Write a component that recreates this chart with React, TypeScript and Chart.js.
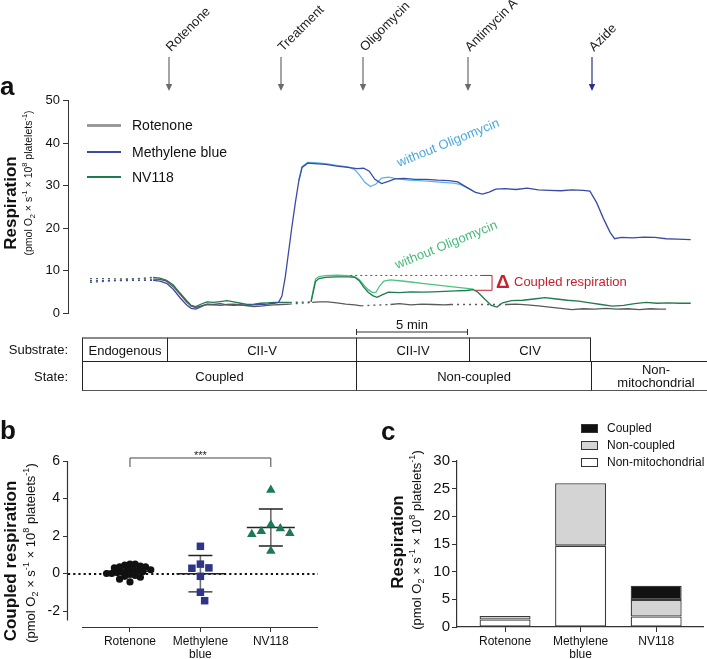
import React, { useEffect, useRef } from "react";
import { Chart, registerables } from "chart.js";

Chart.register(...registerables);

const FONT = '"Liberation Sans", Arial, Helvetica, sans-serif';
Chart.defaults.font.family = FONT;
Chart.defaults.color = "#111";

// ---------------- Panel a: O2 flux traces, [time (min), respiration] ----------------
const rotenoneTrace: [number, number | null][] = [
  [0.98, 8.1], [2.4, null], [3.8, 8.0], [4.1, 7.9], [4.4, 7.5], [4.7, 6.2], [5.0, 4.4], [5.3, 2.6],
  [5.5, 1.6], [5.7, 1.3], [5.9, 1.6], [6.2, 2.0], [6.5, 1.9], [6.8, 1.8], [7.1, 2.0], [7.4, 2.1],
  [7.7, 1.9], [8.0, 1.7], [8.3, 1.5], [8.6, 1.6], [8.9, 1.8], [9.2, 1.9], [9.5, 2.0], [9.9, 2.1],
  [10.4, null], [10.9, 2.5], [11.2, 2.6], [11.6, 2.6], [12.0, 2.4], [12.4, 2.1], [12.8, 1.9], [13.1, 1.7],
  [13.7, null], [14.4, 2.0], [14.8, 2.2], [15.3, 1.9], [15.8, 2.1], [16.3, 2.0], [16.8, 1.9], [17.1, 2.0],
  [18.3, null], [19.6, 2.0], [20.0, 2.1], [20.5, 1.9], [21.0, 1.7], [21.5, 1.4], [22.0, 1.1], [22.5, 0.8],
  [23.0, 1.0], [23.5, 0.9], [24.0, 1.1], [24.5, 0.9], [25.0, 1.0], [25.5, 0.8], [26.0, 1.0], [26.4, 0.9], [26.7, 0.9],
];
const methyleneBlueTrace: [number, number | null][] = [
  [0.98, 7.6], [2.4, null], [3.8, 7.7], [4.1, 7.5], [4.4, 7.0], [4.7, 5.6], [5.0, 3.6], [5.3, 1.9],
  [5.5, 1.1], [5.7, 0.9], [5.9, 1.4], [6.2, 2.1], [6.5, 2.0], [6.8, 2.2], [7.1, 1.9], [7.4, 1.8],
  [7.7, 1.9], [8.0, 1.8], [8.3, 1.9], [8.6, 2.0], [8.9, 2.1], [9.2, 2.3], [9.4, 2.5], [9.55, 4.0],
  [9.7, 8.5], [9.85, 14.5], [10.0, 20.5], [10.15, 26.0], [10.3, 31.0], [10.45, 34.3], [10.7, 35.3],
  [11.0, 35.2], [11.5, 35.0], [12.0, 34.6], [12.5, 34.3], [12.9, 34.0], [13.2, 34.1], [13.45, 33.4],
  [13.7, 31.5], [14.0, 30.5], [14.3, 31.0], [14.6, 31.6], [15.0, 31.7], [15.5, 31.5], [16.0, 31.5],
  [16.5, 31.3], [17.0, 31.2], [17.4, 30.9], [17.8, 29.6], [18.2, 28.4], [18.5, 28.0], [18.8, 28.5],
  [19.1, 29.2], [19.5, 29.3], [20.0, 29.1], [20.5, 29.4], [21.0, 29.0], [21.5, 28.9], [22.0, 28.8],
  [22.5, 29.0], [23.0, 28.9], [23.3, 28.7], [23.6, 26.0], [23.9, 22.3], [24.2, 19.0], [24.4, 17.5],
  [24.7, 17.8], [25.2, 17.7], [25.7, 17.9], [26.2, 17.8], [26.7, 17.5], [27.2, 17.4], [27.8, 17.3],
];
const methyleneBlueNoOligoTrace: [number, number | null][] = [
  [10.3, 31.2], [10.45, 34.5], [10.7, 35.5], [11.0, 35.4], [11.5, 35.2], [12.0, 34.8], [12.5, 34.4],
  [12.8, 33.8], [13.0, 32.6], [13.25, 30.8], [13.5, 29.8], [13.75, 30.4], [14.0, 31.8], [14.3, 32.0],
  [14.7, 31.6], [15.2, 31.3], [15.7, 31.2], [16.2, 31.0], [16.7, 30.8], [17.2, 30.6], [17.5, 30.3],
  [17.8, 29.6], [18.2, 28.4],
];
const nv118Trace: [number, number | null][] = [
  [0.98, 7.2], [2.4, null], [3.8, 8.4], [4.1, 8.2], [4.4, 7.7], [4.7, 6.6], [5.0, 4.7], [5.3, 2.9],
  [5.5, 1.8], [5.7, 1.5], [5.9, 2.0], [6.2, 2.6], [6.5, 2.5], [6.8, 2.7], [7.1, 2.9], [7.4, 2.6],
  [7.7, 2.3], [8.0, 2.0], [8.3, 2.1], [8.6, 2.3], [8.9, 2.4], [9.2, 2.5], [9.5, 2.5], [9.9, 2.5],
  [10.4, null], [10.85, 2.6], [10.95, 5.0], [11.05, 7.4], [11.2, 8.1], [11.5, 8.4], [12.0, 8.5],
  [12.5, 8.5], [12.8, 8.4], [13.0, 7.6], [13.2, 6.1], [13.4, 4.9], [13.6, 4.1], [13.8, 3.7], [14.0, 4.2],
  [14.3, 4.9], [14.8, 4.8], [15.3, 5.0], [15.8, 4.9], [16.3, 5.0], [16.8, 5.1], [17.3, 5.2], [17.8, 5.3],
  [18.1, 5.5], [18.3, 4.9], [18.6, 3.3], [18.9, 1.8], [19.15, 1.4], [19.4, 2.4], [19.8, 2.9], [20.3, 3.0],
  [20.8, 3.3], [21.3, 3.6], [21.8, 3.3], [22.3, 3.0], [22.8, 2.8], [23.3, 2.4], [23.8, 2.0], [24.3, 1.6],
  [24.8, 1.8], [25.3, 2.2], [25.8, 2.5], [26.3, 2.3], [26.8, 2.4], [27.3, 2.3], [27.8, 2.3],
];
const nv118NoOligoTrace: [number, number | null][] = [
  [10.85, 2.7], [10.95, 5.5], [11.05, 8.0], [11.2, 8.6], [11.5, 8.8], [12.0, 8.9], [12.5, 8.8],
  [12.8, 8.6], [13.0, 7.9], [13.2, 6.6], [13.4, 5.5], [13.6, 4.8], [13.75, 4.9], [13.9, 6.3],
  [14.1, 7.5], [14.4, 7.8], [14.8, 7.6], [15.3, 7.3], [15.8, 7.0], [16.3, 6.7], [16.8, 6.4],
  [17.3, 6.1], [17.8, 5.8], [18.1, 5.6],
];
const traceNames = ["Rotenone", "Methylene blue", "NV118"];
const respAxis = { min: 0, max: 50, step: 10 };
const timeAxis = { min: 0, max: 28.08 };
// coupled respiration bracket (time in min, respiration)
const coupledMark = { from: 12.6, to: 18.4, at: 18.93, bottomFrom: 18.2, top: 8.85, bottom: 5.35 };

// ---------------- Panel b: coupled respiration per platelet sample ----------------
const groupNames = ["Rotenone", "Methylene blue", "NV118"];
const groupTickLabels: (string | string[])[] = ["Rotenone", ["Methylene", "blue"], "NV118"];
const rotenoneCoupled = [0.5, 0.5, 0.45, 0.4, 0.35, 0.35, 0.3, 0.25, 0.2, 0.2, 0.15, 0.1, 0.1, 0.05, 0.0, 0.0, -0.05, -0.1, -0.15, -0.2, -0.3, -0.45];
const methyleneBlueCoupled = [1.45, 0.5, 0.3, 0.28, -0.15, -1.0, -1.45];
const nv118Coupled = [4.45, 2.6, 2.4, 2.25, 2.15, 2.1, 1.2];
const coupledAxis = { min: -2.853, max: 6, step: 2, axisEnd: -2.5 };
const significance = { from: 1, to: 3, level: 6.16, drop: 5.68, label: "***" };

// ---------------- Panel c: stacked respiration ----------------
const stackNames = ["Non-mitochondrial", "Non-coupled", "Coupled"];
const nonMitochondrial = [1.35, 14.7, 1.9];
const nonCoupled = [0.65, 11.3, 3.0];
const coupled = [0, 0, 2.55];
const stackAxis = { min: 0, max: 30, step: 5 };

const mean = (v: number[]) => v.reduce((a, b) => a + b, 0) / v.length;
const sd = (v: number[]) => {
  const m = mean(v);
  return Math.sqrt(v.reduce((a, b) => a + (b - m) * (b - m), 0) / (v.length - 1));
};

// simple beeswarm placement (offsets computed from values)
function swarm(values: number[], center: number, diam: number, pxPerX: number, pxPerY: number) {
  const placed: { x: number; y: number }[] = [];
  const out: { x: number; y: number }[] = new Array(values.length);
  const order = values.map((_, i) => i).sort((a, b) => values[b] - values[a]);
  for (const i of order) {
    const yPx = values[i] * pxPerY;
    let chosen = 0;
    for (let s = 0; s < 60; s++) {
      const off = s === 0 ? 0 : (s % 2 ? 1 : -1) * Math.ceil(s / 2) * diam * 0.5;
      if (placed.every((p) => Math.hypot(p.x - off, p.y - yPx) >= diam)) {
        chosen = off;
        break;
      }
    }
    placed.push({ x: chosen, y: yPx });
    out[i] = { x: center + chosen / pxPerX, y: values[i] };
  }
  return out;
}

const gapDash = (ctx: any) => (ctx.p0.skip || ctx.p1.skip ? [2, 4] : undefined);
const toXY = (t: [number, number | null][]) => t.map(([x, y]) => ({ x, y }));

const bracketPlugin = {
  id: "coupledBracket",
  afterDatasetsDraw(chart: any) {
    const { ctx, scales } = chart;
    const x = scales.x, y = scales.y;
    const c = coupledMark;
    ctx.save();
    ctx.strokeStyle = "#c8202f";
    ctx.lineWidth = 1;
    ctx.setLineDash([2, 3]);
    ctx.beginPath();
    ctx.moveTo(x.getPixelForValue(c.from), y.getPixelForValue(c.top));
    ctx.lineTo(x.getPixelForValue(c.to), y.getPixelForValue(c.top));
    ctx.stroke();
    ctx.setLineDash([]);
    ctx.beginPath();
    ctx.moveTo(x.getPixelForValue(c.to), y.getPixelForValue(c.top));
    ctx.lineTo(x.getPixelForValue(c.at), y.getPixelForValue(c.top));
    ctx.lineTo(x.getPixelForValue(c.at), y.getPixelForValue(c.bottom));
    ctx.lineTo(x.getPixelForValue(c.bottomFrom), y.getPixelForValue(c.bottom));
    ctx.stroke();
    ctx.restore();
  },
};

const groups = [rotenoneCoupled, methyleneBlueCoupled, nv118Coupled];

const scatterPlugin = {
  id: "scatterDecor",
  beforeDatasetsDraw(chart: any) {
    const { ctx, chartArea, scales } = chart;
    const x = scales.x, y = scales.y;
    ctx.save();
    const y0 = Math.round(y.getPixelForValue(0));
    ctx.strokeStyle = "#111";
    ctx.lineWidth = 2.2;
    ctx.setLineDash([2.2, 3]);
    ctx.beginPath();
    ctx.moveTo(chartArea.left, y0);
    ctx.lineTo(chartArea.right, y0);
    ctx.stroke();
    ctx.setLineDash([]);
    groups.forEach((vals, i) => {
      const m = mean(vals), s = sd(vals);
      const cx = x.getPixelForValue(i + 1);
      ctx.strokeStyle = "#707070";
      ctx.lineWidth = 1.6;
      ctx.beginPath();
      ctx.moveTo(cx, y.getPixelForValue(m - s));
      ctx.lineTo(cx, y.getPixelForValue(m + s));
      ctx.stroke();
      ctx.strokeStyle = "#222";
      ctx.lineWidth = 1.4;
      ctx.beginPath();
      ctx.moveTo(cx - 24, y.getPixelForValue(m));
      ctx.lineTo(cx + 24, y.getPixelForValue(m));
      ctx.moveTo(cx - 12, y.getPixelForValue(m + s));
      ctx.lineTo(cx + 12, y.getPixelForValue(m + s));
      ctx.moveTo(cx - 12, y.getPixelForValue(m - s));
      ctx.lineTo(cx + 12, y.getPixelForValue(m - s));
      ctx.stroke();
    });
    ctx.restore();
  },
  afterDraw(chart: any) {
    const { ctx, chartArea, scales } = chart;
    const x = scales.x, y = scales.y;
    ctx.save();
    ctx.strokeStyle = "#333";
    ctx.lineWidth = 1.2;
    ctx.beginPath();
    const lx = chartArea.left - 0.5;
    ctx.moveTo(lx, y.getPixelForValue(coupledAxis.max));
    ctx.lineTo(lx, y.getPixelForValue(coupledAxis.axisEnd));
    const by = chartArea.bottom + 0.5;
    ctx.moveTo(chartArea.left + 14, by);
    ctx.lineTo(chartArea.right, by);
    ctx.stroke();
    // significance bracket
    const x1 = x.getPixelForValue(significance.from), x2 = x.getPixelForValue(significance.to);
    const yt = y.getPixelForValue(significance.level), yd = y.getPixelForValue(significance.drop);
    ctx.strokeStyle = "#444";
    ctx.lineWidth = 1;
    ctx.beginPath();
    ctx.moveTo(x1, yd);
    ctx.lineTo(x1, yt);
    ctx.lineTo(x2, yt);
    ctx.lineTo(x2, yd);
    ctx.stroke();
    ctx.fillStyle = "#222";
    ctx.font = `11px ${FONT}`;
    ctx.textAlign = "center";
    ctx.textBaseline = "alphabetic";
    ctx.fillText(significance.label, (x1 + x2) / 2, yt + 1);
    ctx.restore();
  },
};

const sub = { fontSize: "0.7em", verticalAlign: "sub", lineHeight: 0 } as const;
const sup = { fontSize: "0.7em", verticalAlign: "super", lineHeight: 0 } as const;
const Units = () => (
  <>
    (pmol O<span style={sub}>2</span> × s<span style={sup}>-1</span> × 10<span style={sup}>8</span> platelets<span style={sup}>-1</span>)
  </>
);

function VText(props: { cx: number; cy: number; size: number; bold?: boolean; children: any }) {
  return (
    <div
      style={{
        position: "absolute",
        left: props.cx,
        top: props.cy,
        transform: "translate(-50%,-50%) rotate(-90deg)",
        whiteSpace: "nowrap",
        fontSize: props.size,
        fontWeight: props.bold ? 700 : 400,
        lineHeight: 1,
        color: "#111",
      }}
    >
      {props.children}
    </div>
  );
}

const injections = [
  { name: "Rotenone", x: 169, color: "#6a6a6a" },
  { name: "Treatment", x: 281, color: "#6a6a6a" },
  { name: "Oligomycin", x: 363, color: "#6a6a6a" },
  { name: "Antimycin A", x: 468, color: "#6a6a6a" },
  { name: "Azide", x: 592, color: "#2a3380" },
];

const substrateCells = [
  { label: "Endogenous", from: 82, to: 167 },
  { label: "CII-V", from: 167, to: 356 },
  { label: "CII-IV", from: 356, to: 469 },
  { label: "CIV", from: 469, to: 590 },
];
const stateCells = [
  { label: "Coupled", from: 82, to: 356 },
  { label: "Non-coupled", from: 356, to: 591 },
  { label: "Non-\nmitochondrial", from: 591, to: 720 },
];

const COLORS = {
  rot: "#5a5a5a",
  mb: "#3a4aa6",
  mbLight: "#5cb3e6",
  nv: "#1f7a4d",
  nvLight: "#4cc383",
};

export default function App() {
  const aRef = useRef<HTMLCanvasElement>(null);
  const bRef = useRef<HTMLCanvasElement>(null);
  const cRef = useRef<HTMLCanvasElement>(null);

  useEffect(() => {
    const lineDs = (label: string, data: [number, number | null][], color: string, width = 1.3) => ({
      label,
      data: toXY(data),
      borderColor: color,
      backgroundColor: color,
      borderWidth: width,
      pointRadius: 0,
      tension: 0,
      spanGaps: true,
      segment: { borderDash: gapDash },
    });
    const ca = new Chart(aRef.current!, {
      type: "line",
      data: {
        datasets: [
          lineDs(traceNames[0], rotenoneTrace, COLORS.rot),
          lineDs(traceNames[1], methyleneBlueTrace, COLORS.mb),
          lineDs(traceNames[2], nv118Trace, COLORS.nv),
          lineDs(traceNames[1] + " without Oligomycin", methyleneBlueNoOligoTrace, COLORS.mbLight),
          lineDs(traceNames[2] + " without Oligomycin", nv118NoOligoTrace, COLORS.nvLight),
        ] as any,
      },
      options: {
        animation: false,
        responsive: false,
        maintainAspectRatio: false,
        layout: { padding: { left: 0, right: 10, top: 9, bottom: 12 } },
        plugins: { legend: { display: false }, tooltip: { enabled: false } },
        scales: {
          x: { type: "linear", min: timeAxis.min, max: timeAxis.max, display: false },
          y: {
            min: respAxis.min,
            max: respAxis.max,
            ticks: { stepSize: respAxis.step, color: "#111", font: { size: 13 }, padding: 3 },
            grid: { drawOnChartArea: false, tickLength: 5, color: "#333" },
            border: { color: "#333", width: 1 },
            afterFit: (s: any) => {
              s.width = 68;
            },
          },
        },
      } as any,
      plugins: [bracketPlugin],
    });

    const cb = new Chart(bRef.current!, {
      type: "scatter",
      data: {
        datasets: [
          {
            label: groupNames[0],
            data: swarm(rotenoneCoupled, 1, 5.2, 70.4, 18.75),
            pointStyle: "circle",
            pointRadius: 3.6,
            backgroundColor: "#111",
            borderColor: "#111",
            borderWidth: 0,
          },
          {
            label: groupNames[1],
            data: swarm(methyleneBlueCoupled, 2, 8.5, 70.4, 18.75),
            pointStyle: "rect",
            pointRadius: 5.3,
            backgroundColor: "#2e3589",
            borderColor: "#2e3589",
            borderWidth: 0,
          },
          {
            label: groupNames[2],
            data: swarm(nv118Coupled, 3, 9.5, 70.4, 18.75),
            pointStyle: "triangle",
            pointRadius: 5.5,
            backgroundColor: "#1d7a58",
            borderColor: "#1d7a58",
            borderWidth: 0,
          },
        ] as any,
      },
      options: {
        animation: false,
        responsive: false,
        maintainAspectRatio: false,
        layout: { padding: { left: 0, right: 22, top: 21, bottom: 0 } },
        plugins: { legend: { display: false }, tooltip: { enabled: false } },
        scales: {
          x: {
            type: "linear",
            min: 0.12,
            max: 3.67,
            afterBuildTicks: (s: any) => {
              s.ticks = groupNames.map((_, i) => ({ value: i + 1 }));
            },
            ticks: {
              autoSkip: false,
              maxRotation: 0,
              color: "#111",
              font: { size: 12, lineHeight: 1.1 },
              padding: 3,
              callback: (v: any) => groupTickLabels[Math.round(v) - 1],
            },
            grid: { drawOnChartArea: false, tickLength: 5, color: "#333" },
            border: { display: false },
            afterFit: (s: any) => {
              s.height = 32;
            },
          },
          y: {
            min: coupledAxis.min,
            max: coupledAxis.max,
            ticks: { stepSize: coupledAxis.step, includeBounds: false, color: "#111", font: { size: 14 }, padding: 3 },
            grid: { drawOnChartArea: false, tickLength: 5, color: "#333" },
            border: { display: false },
            afterFit: (s: any) => {
              s.width = 68;
            },
          },
        },
      } as any,
      plugins: [scatterPlugin],
    });

    const barDs = (label: string, vals: number[], fill: string) => ({
      label,
      data: vals.map((v, i) => ({ x: i + 1, y: v })),
      backgroundColor: fill,
      borderColor: "#3a3a3a",
      borderWidth: 1.3,
      borderSkipped: false,
      categoryPercentage: 1,
      barPercentage: 0.675,
    });
    const cc = new Chart(cRef.current!, {
      type: "bar",
      data: {
        datasets: [
          barDs(stackNames[0], nonMitochondrial, "#ffffff"),
          barDs(stackNames[1], nonCoupled, "#d4d4d4"),
          barDs(stackNames[2], coupled, "#111111"),
        ] as any,
      },
      options: {
        animation: false,
        responsive: false,
        maintainAspectRatio: false,
        layout: { padding: { left: 0, right: 4, top: 21, bottom: 0 } },
        plugins: { legend: { display: false }, tooltip: { enabled: false } },
        scales: {
          x: {
            type: "linear",
            stacked: true,
            offset: false,
            min: 0.364,
            max: 3.62,
            afterBuildTicks: (s: any) => {
              s.ticks = groupNames.map((_, i) => ({ value: i + 1 }));
            },
            ticks: {
              autoSkip: false,
              maxRotation: 0,
              color: "#111",
              font: { size: 12, lineHeight: 1.1 },
              padding: 3,
              callback: (v: any) => groupTickLabels[Math.round(v) - 1],
            },
            grid: { offset: false, drawOnChartArea: false, tickLength: 5, color: "#333" },
            border: { color: "#333", width: 1.2 },
            afterFit: (s: any) => {
              s.height = 32;
            },
          },
          y: {
            stacked: true,
            min: stackAxis.min,
            max: stackAxis.max,
            ticks: { stepSize: stackAxis.step, color: "#111", font: { size: 15 }, padding: 2 },
            grid: { drawOnChartArea: false, tickLength: 5, color: "#333" },
            border: { color: "#333", width: 1.2 },
            afterFit: (s: any) => {
              s.width = 97;
            },
          },
        },
      } as any,
    });

    return () => {
      ca.destroy();
      cb.destroy();
      cc.destroy();
    };
  }, []);

  const legendA = [
    { name: traceNames[0], color: "#9a9a9a", width: 3, y: 125 },
    { name: traceNames[1], color: COLORS.mb, width: 1.5, y: 152 },
    { name: traceNames[2], color: COLORS.nv, width: 1.5, y: 177 },
  ];
  const legendC = [
    { name: stackNames[2], fill: "#111", y: 428 },
    { name: stackNames[1], fill: "#d4d4d4", y: 445 },
    { name: stackNames[0], fill: "#fff", y: 462 },
  ];

  return (
    <div
      style={{
        position: "absolute",
        left: 0,
        top: 0,
        width: 707,
        height: 659,
        background: "#fff",
        overflow: "hidden",
        fontFamily: FONT,
        color: "#111",
      }}
    >
      <canvas ref={aRef} width={707} height={235} style={{ position: "absolute", left: 0, top: 90, width: 707, height: 235 }} />
      <canvas ref={bRef} width={340} height={219} style={{ position: "absolute", left: 0, top: 440, width: 340, height: 219 }} />
      <canvas ref={cRef} width={347} height={219} style={{ position: "absolute", left: 360, top: 440, width: 347, height: 219 }} />

      {/* panel letters */}
      <div style={{ position: "absolute", left: 0, top: 97 - 24, fontSize: 26, fontWeight: 700, lineHeight: "26px" }}>a</div>
      <div style={{ position: "absolute", left: 0, top: 441 - 24, fontSize: 26, fontWeight: 700, lineHeight: "26px" }}>b</div>
      <div style={{ position: "absolute", left: 381, top: 442 - 24, fontSize: 26, fontWeight: 700, lineHeight: "26px" }}>c</div>

      {/* axis titles */}
      <VText cx={9.5} cy={203} size={17} bold>Respiration</VText>
      <VText cx={28} cy={183} size={10.5}><Units /></VText>
      <VText cx={9.5} cy={561} size={17} bold>Coupled respiration</VText>
      <VText cx={30} cy={553} size={13}><Units /></VText>
      <VText cx={397} cy={542} size={17} bold>Respiration</VText>
      <VText cx={416} cy={540} size={13}><Units /></VText>

      {/* legend a */}
      {legendA.map((l) => (
        <React.Fragment key={l.name}>
          <div style={{ position: "absolute", left: 87, width: 34, top: l.y - l.width / 2, height: l.width, background: l.color }} />
          <div style={{ position: "absolute", left: 132, top: l.y - 8, fontSize: 14, lineHeight: "16px", whiteSpace: "nowrap" }}>{l.name}</div>
        </React.Fragment>
      ))}

      {/* legend c */}
      {legendC.map((l) => (
        <React.Fragment key={l.name}>
          <div
            style={{
              position: "absolute",
              left: 581,
              top: l.y - 4.5,
              width: 17,
              height: 9,
              background: l.fill,
              border: "1px solid #333",
              boxSizing: "border-box",
            }}
          />
          <div style={{ position: "absolute", left: 607, top: l.y - 7, fontSize: 12, lineHeight: "14px", whiteSpace: "nowrap" }}>{l.name}</div>
        </React.Fragment>
      ))}

      {/* table */}
      <div style={{ position: "absolute", left: 0, width: 68, top: 338, height: 24, textAlign: "right", fontSize: 13, lineHeight: "24px" }}>Substrate:</div>
      <div style={{ position: "absolute", left: 0, width: 68, top: 362, height: 29, textAlign: "right", fontSize: 13, lineHeight: "29px" }}>State:</div>
      {substrateCells.map((c) => (
        <div
          key={c.label}
          style={{
            position: "absolute",
            left: c.from,
            top: 337,
            width: c.to - c.from + 1,
            height: 25,
            border: "1px solid #222",
            borderTop: "2px solid #8a8a8a",
            boxSizing: "border-box",
            display: "flex",
            alignItems: "center",
            justifyContent: "center",
            fontSize: 13,
          }}
        >
          {c.label}
        </div>
      ))}
      {stateCells.map((c) => (
        <div
          key={c.label}
          style={{
            position: "absolute",
            left: c.from,
            top: 361,
            width: c.to - c.from + 1,
            height: 30,
            border: "1px solid #222",
            borderBottom: "1.5px solid #555",
            boxSizing: "border-box",
            display: "flex",
            alignItems: "center",
            justifyContent: "center",
            textAlign: "center",
            whiteSpace: "pre-line",
            fontSize: 13,
            lineHeight: "13px",
          }}
        >
          {c.label}
        </div>
      ))}

      {/* SVG overlay: injections, scale bar, annotations */}
      <svg width={707} height={659} style={{ position: "absolute", left: 0, top: 0, pointerEvents: "none" }} fontFamily={FONT}>
        {injections.map((d) => (
          <g key={d.name}>
            <line x1={d.x} y1={57} x2={d.x} y2={86} stroke={d.color} strokeWidth={1.2} />
            <polygon points={`${d.x - 3.2},84 ${d.x + 3.2},84 ${d.x},91`} fill={d.color} />
            <text transform={`translate(${d.x + 2},52) rotate(-45)`} fontSize={13} fill="#222">
              {d.name}
            </text>
          </g>
        ))}
        <line x1={356} y1={332} x2={468} y2={332} stroke="#333" strokeWidth={1} />
        <line x1={356.5} y1={329} x2={356.5} y2={335} stroke="#333" strokeWidth={1} />
        <line x1={467.5} y1={329} x2={467.5} y2={335} stroke="#333" strokeWidth={1} />
        <text x={412} y={329} fontSize={13} textAnchor="middle" fill="#111">5 min</text>
        <text transform="translate(399,167) rotate(-22)" fontSize={13} fill="#4aa8de">without Oligomycin</text>
        <text transform="translate(397,269) rotate(-22)" fontSize={13} fill="#45bb7a">without Oligomycin</text>
        <text x={496} y={288} fontSize={19} fontWeight={700} fill="#c8202f">Δ</text>
        <text x={514} y={286} fontSize={13} fill="#c8202f">Coupled respiration</text>
      </svg>
    </div>
  );
}
